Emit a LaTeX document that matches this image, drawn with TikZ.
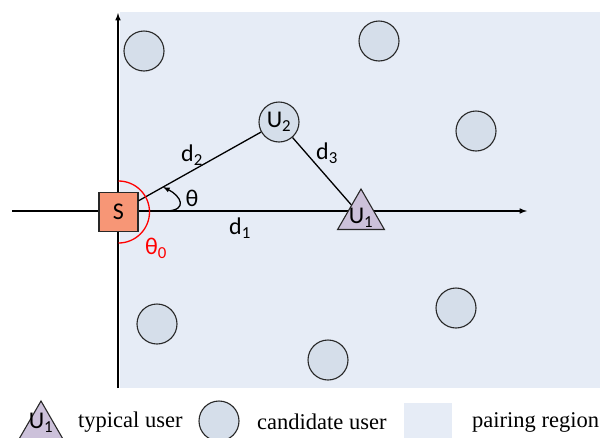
\documentclass[tikz,border=0pt]{standalone}
\usepackage{fontspec}
\setmainfont{Liberation Serif}
\newfontfamily\labelfont{Carlito}
\usetikzlibrary{shapes.geometric,calc}

\definecolor{regionblue}{RGB}{230,236,246}
\definecolor{candfill}{RGB}{213,222,234}
\definecolor{userfill}{RGB}{204,193,218}
\definecolor{srcfill}{RGB}{247,150,118}
\definecolor{rimgray}{RGB}{40,40,40}

\begin{document}
\begin{tikzpicture}[x=1pt, y=-1pt,
    lbl/.style={font=\labelfont\fontsize{24}{26}\selectfont, inner sep=0pt},
    cand/.style={draw=rimgray, line width=1.1pt, fill=candfill, circle, minimum size=40pt, inner sep=0pt},
    typ/.style={draw=rimgray, line width=1.1pt, fill=userfill, regular polygon, regular polygon sides=3, minimum size=54pt, inner sep=0pt},
    legend/.style={font=\fontsize{22.5}{24}\selectfont, inner sep=0pt, anchor=west}]
\useasboundingbox (0,0) rectangle (600,437);

% pairing region and axes
\fill [regionblue] (120,12) rectangle (600,388);
\coordinate (xstart) at (12,211);
\coordinate (xend) at (527,211);
\coordinate (ystart) at (118,388);
\coordinate (yend) at (118,13);
\draw [-latex, line width=1.5pt] (xstart) -- (xend);
\draw [-latex, line width=1.5pt] (ystart) -- (yend);

% candidate users
\node [cand] (c1) at (144,51) {};
\node [cand] (c2) at (379,41) {};
\node [cand] (c3) at (476,131) {};
\node [cand] (c4) at (157,324) {};
\node [cand] (c5) at (456,308) {};
\node [cand] (c6) at (328,360) {};

% source, paired user and typical user
\node [draw=rimgray, line width=1.1pt, fill=srcfill, rectangle, minimum size=39pt, inner sep=0pt, lbl] (s) at (118.5,212) {S};
\node [cand, lbl] (u2) at (279,122) {U\textsubscript{2}};
\node [typ] (u1) at (361,216) {};
\node [lbl] at (361,218) {U\textsubscript{1}};

\draw [line width=1.3pt] (s) -- (u2);
\draw [line width=1.3pt] (u2) -- (u1);

% angles
\draw [red, line width=1.3pt] ($(s.center)+(0,-31)$) arc [start angle=-90, end angle=90, radius=31];
\draw [-latex, line width=1.3pt] (167,211) .. controls (188,210) and (181,196) .. (163,187);

\node [lbl] (d1) at (240,228) {d\textsubscript{1}};
\node [lbl] (d2) at (192,155) {d\textsubscript{2}};
\node [lbl] (d3) at (327,153) {d\textsubscript{3}};
\node [lbl] (th) at (192,198) {θ};
\node [lbl, red] (th0) at (156,248) {θ\textsubscript{0}};

% legend
\node [typ] (lu1) at (41,428) {};
\node [lbl] at (41,423) {U\textsubscript{1}};
\node [legend] (ltyp) at (78,422) {typical user};
\node [cand] (lcand) at (219,421) {};
\node [legend] (lcandtxt) at (257,422) {candidate user};
\fill [regionblue] (404,403) rectangle (452,445);
\node [legend] (lreg) at (472,422) {pairing region};
\end{tikzpicture}
\end{document}
